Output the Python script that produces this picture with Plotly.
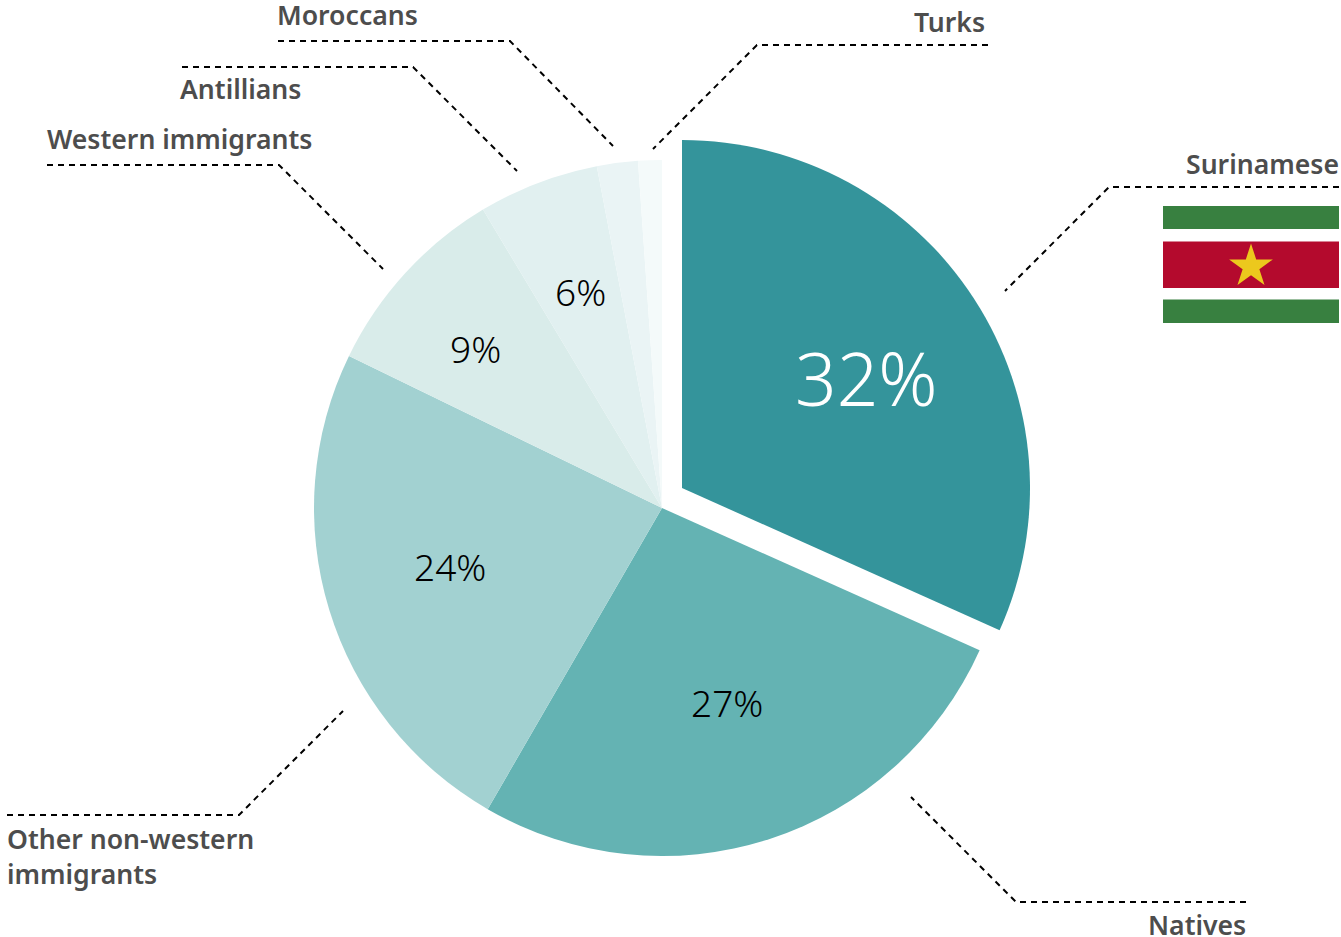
import math
import plotly.graph_objects as go

W, H = 1341, 937

groups = ["Surinamese", "Natives", "Other non-western immigrants", "Western immigrants",
          "Antillians", "Moroccans", "Turks"]
shares = [31.7, 26.65, 23.85, 9.2, 5.6, 1.9, 1.1]
colors = ["#34949b", "#64b3b3", "#a2d1d1", "#d9ecea", "#e1f0f0", "#eaf4f5", "#f4fafa"]

pct_text = ["32%", "27%", "24%", "9%", "6%"]
pct_x = [866, 727, 450, 475, 580]
pct_y = [377, 702, 566, 348, 291]
pct_size = [73, 37, 37, 37, 37]
pct_color = ["white", "black", "black", "black", "black"]

name_text = ["Moroccans", "Antillians", "Western immigrants", "Turks", "Surinamese", "Natives",
             "Other non-western<br>immigrants"]
name_x = [275, 178, 45, 987, 1341, 1248, 5]
name_y = [15, 89, 139, 22, 164, 925, 856]
name_anchor = ["left", "left", "left", "right", "right", "right", "left"]

leaders = [
    [(278, 41), (510, 41), (613, 146)],
    [(182, 67), (413, 67), (517, 171)],
    [(47, 165), (279, 165), (383, 269)],
    [(988, 45), (757, 45), (653, 149)],
    [(1339, 187), (1109, 187), (1005, 291)],
    [(1246, 902), (1016, 902), (911, 797)],
    [(7, 815), (239, 815), (343, 711)],
]


def fx(x):
    return x / W


def fy(y):
    return 1 - y / H


def path(points, close=False):
    d = "M " + " L ".join(f"{fx(x):.5f},{fy(y):.5f}" for x, y in points)
    return d + " Z" if close else d


def pie_domain(cx, cy, r):
    return dict(x=[fx(cx - r), fx(cx + r)], y=[fy(cy + r), fy(cy - r)])


fig = go.Figure()

# main pie, first slice hidden so it can be pulled out on its own
fig.add_trace(go.Pie(
    labels=groups, values=shares, sort=False, direction="clockwise", rotation=0,
    marker=dict(colors=["rgba(0,0,0,0)"] + colors[1:], line=dict(width=0)),
    textinfo="none", showlegend=False, domain=pie_domain(662, 508, 348),
))
# pulled out slice, moved up and right by the same amount
fig.add_trace(go.Pie(
    labels=[groups[0], "rest"], values=[shares[0], sum(shares[1:])], sort=False,
    direction="clockwise", rotation=0,
    marker=dict(colors=[colors[0], "rgba(0,0,0,0)"], line=dict(width=0)),
    textinfo="none", showlegend=False, domain=pie_domain(682, 488, 348),
))

shapes = []
for pts in leaders:
    shapes.append(dict(type="path", xref="paper", yref="paper", path=path(pts),
                       line=dict(color="black", width=2, dash="6px,5px")))

# flag of Suriname
for y0, y1, c in [(206, 229, "#388040"), (241.5, 288, "#b40a2d"), (299.5, 323, "#388040")]:
    shapes.append(dict(type="rect", xref="paper", yref="paper", x0=fx(1163), x1=fx(1339),
                       y0=fy(y0), y1=fy(y1), fillcolor=c, line=dict(width=0), layer="above"))
star = []
for i in range(10):
    r = 23 if i % 2 == 0 else 8.8
    a = math.pi * i / 5
    star.append((1251 + r * math.sin(a), 266.5 - r * math.cos(a)))
shapes.append(dict(type="path", xref="paper", yref="paper", path=path(star, True),
                   fillcolor="#ecc81d", line=dict(width=0)))

annotations = []
for t, x, y, s, c in zip(pct_text, pct_x, pct_y, pct_size, pct_color):
    annotations.append(dict(text=t, x=fx(x), y=fy(y), xref="paper", yref="paper", showarrow=False,
                            xanchor="center", yanchor="middle",
                            font=dict(family="Noto Sans", size=s, color=c, weight=300)))
for t, x, y, a in zip(name_text, name_x, name_y, name_anchor):
    annotations.append(dict(text=t, x=fx(x), y=fy(y), xref="paper", yref="paper", showarrow=False,
                            xanchor=a, yanchor="middle", align=a,
                            font=dict(family="Noto Sans", size=26.6, color="#4d4d4d", weight=600)))

fig.update_layout(width=W, height=H, margin=dict(l=0, r=0, t=0, b=0), paper_bgcolor="white",
                  shapes=shapes, annotations=annotations)

# page has a default 8px body margin, drop it so the figure fills the window
fig.write_html("out.html", config={"displayModeBar": False},
               post_script="document.body.style.margin = '0';")
